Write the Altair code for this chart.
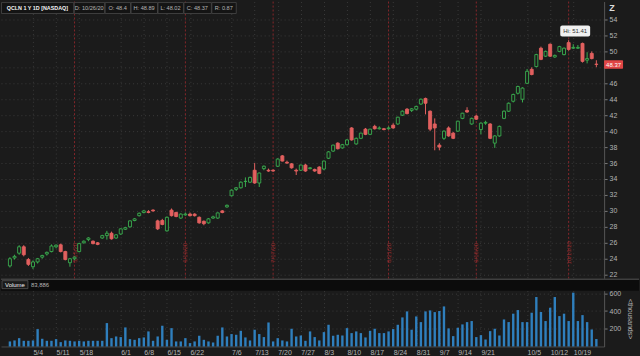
import altair as alt
import pandas as pd

# ---------------- data ----------------
opens = [23.1, 24.1, 24.7, 25.5, 23.9, 23.0, 23.6, 24.2, 24.6, 24.9,
         25.5, 25.75, 24.9, 23.5, 24.0, 24.9, 26.0, 26.4, 26.2, 26.0,
         26.6, 26.9, 27.2, 26.6, 27.1, 27.7, 28.0, 28.8, 29.4, 29.8,
         29.9, 30.1, 28.75, 28.8, 27.5, 30.1, 29.8, 29.1, 29.5, 29.6,
         29.6, 29.2, 28.7, 28.5, 29.1, 29.1, 30.0, 30.5, 31.9, 32.7,
         32.9, 33.7, 33.6, 35.1, 33.5, 35.3, 35.1, 35.1, 35.6, 36.9,
         36.1, 35.9, 35.1, 35.1, 35.75, 35.3, 35.2, 35.5, 35.25, 36.6,
         37.5, 38.5, 37.9, 38.3, 40.4, 38.4, 39.1, 40.25, 39.6, 40.6,
         40.3, 40.3, 40.3, 40.75, 40.9, 42.0, 42.75, 42.6, 42.75, 43.4,
         44.1, 42.5, 40.9, 38.25, 39.1, 40.4, 39.75, 40.0, 41.6, 42.6,
         40.9, 41.9, 40.2, 41.0, 40.9, 38.5, 39.4, 41.6, 42.5, 43.75,
         44.75, 44.0, 46.0, 47.75, 48.1, 50.4, 49.4, 50.9, 49.3, 50.0,
         49.6, 51.1, 50.4, 50.4, 51.0, 48.9, 49.75, 48.4]
highs = [24.2, 24.5, 25.7, 25.7, 24.1, 23.8, 24.1, 24.5, 24.9, 25.8,
         25.8, 25.9, 25.0, 24.1, 24.3, 26.0, 26.3, 26.7, 26.3, 26.1,
         27.0, 27.5, 27.4, 27.1, 27.8, 28.0, 28.8, 29.1, 29.8, 30.1,
         30.1, 30.2, 28.9, 29.0, 29.3, 30.3, 29.9, 29.7, 29.8, 29.8,
         29.7, 29.3, 28.8, 29.1, 29.4, 29.8, 30.1, 30.8, 32.7, 33.0,
         33.7, 34.2, 34.3, 36.0, 34.8, 35.7, 35.3, 35.2, 36.6, 37.0,
         36.3, 36.0, 35.3, 35.8, 35.9, 35.5, 35.3, 35.6, 36.3, 37.5,
         38.3, 38.6, 38.4, 39.0, 40.5, 39.2, 39.8, 40.4, 40.3, 40.8,
         40.6, 40.4, 40.6, 41.0, 41.8, 42.6, 42.9, 42.9, 43.2, 44.1,
         44.2, 42.6, 41.6, 38.5, 40.1, 40.6, 39.9, 41.3, 42.3, 43.0,
         41.7, 42.0, 41.1, 41.3, 41.0, 39.5, 40.7, 42.6, 43.6, 44.7,
         45.7, 45.5, 47.8, 48.0, 49.7, 50.6, 50.1, 51.0, 49.6, 50.7,
         50.5, 51.41, 50.9, 50.8, 51.1, 49.9, 50.0, 48.89]
lows = [22.9, 23.9, 24.5, 24.3, 23.1, 22.7, 23.4, 24.0, 24.4, 24.8,
        25.3, 24.8, 23.8, 23.0, 23.8, 24.8, 25.9, 26.2, 25.8, 25.7,
        26.5, 26.4, 26.4, 26.5, 27.0, 27.6, 27.9, 28.7, 29.3, 29.7,
        29.7, 29.9, 27.6, 28.2, 27.4, 29.3, 29.2, 29.0, 29.4, 29.3,
        29.3, 28.4, 28.2, 28.4, 29.0, 29.0, 29.7, 30.4, 31.8, 32.5,
        32.8, 33.0, 33.5, 33.4, 33.0, 35.1, 34.9, 34.9, 35.5, 36.2,
        35.9, 35.3, 34.5, 35.0, 34.9, 35.2, 34.9, 34.6, 35.1, 36.5,
        37.4, 37.7, 37.8, 38.2, 38.8, 38.3, 39.0, 39.5, 39.5, 40.2,
        40.2, 40.1, 40.2, 40.3, 40.8, 41.9, 42.1, 42.4, 42.6, 43.3,
        42.1, 40.0, 37.6, 37.6, 38.9, 39.3, 39.0, 39.9, 41.5, 42.3,
        40.8, 41.4, 39.6, 40.8, 39.0, 37.9, 39.3, 41.5, 42.4, 43.6,
        44.6, 43.6, 45.9, 47.0, 48.0, 48.9, 49.3, 49.3, 49.2, 49.9,
        49.5, 50.1, 50.3, 50.3, 48.6, 48.5, 49.0, 48.02]
closes = [24.0, 24.3, 25.5, 24.5, 23.3, 23.6, 24.0, 24.4, 24.8, 25.6,
          25.7, 24.9, 23.9, 24.0, 24.2, 25.9, 26.2, 26.6, 25.9, 25.8,
          26.9, 27.2, 26.5, 27.0, 27.75, 27.9, 28.75, 29.0, 29.7, 30.0,
          29.8, 30.0, 27.75, 28.3, 29.2, 29.4, 29.3, 29.6, 29.6, 29.4,
          29.4, 28.5, 28.4, 29.0, 29.25, 29.75, 29.8, 30.7, 32.6, 32.9,
          33.6, 33.7, 34.2, 33.5, 34.75, 35.6, 35.0, 35.0, 36.5, 36.25,
          36.0, 35.4, 35.0, 35.75, 35.0, 35.4, 35.0, 34.7, 36.25, 37.4,
          38.25, 37.8, 38.3, 38.9, 38.9, 39.1, 39.75, 39.6, 40.25, 40.3,
          40.4, 40.2, 40.4, 40.4, 41.75, 42.5, 42.2, 42.8, 43.1, 44.0,
          43.5, 40.25, 40.4, 38.0, 40.0, 39.4, 39.1, 41.25, 42.25, 42.4,
          41.6, 41.5, 41.0, 41.1, 39.1, 39.4, 40.6, 42.5, 43.5, 44.6,
          45.6, 45.4, 47.5, 47.1, 49.6, 49.0, 50.0, 49.4, 49.5, 50.6,
          50.4, 50.25, 50.5, 50.5, 48.75, 49.1, 49.1, 48.37]
volumes = [57, 68, 94, 64, 64, 68, 196, 87, 64, 64,
           83, 49, 68, 64, 57, 64, 57, 64, 64, 64,
           64, 264, 94, 113, 106, 215, 83, 75, 94, 102,
           170, 64, 113, 234, 75, 207, 57, 57, 94, 38,
           57, 121, 75, 57, 45, 121, 215, 113, 140, 132,
           177, 102, 68, 189, 140, 106, 271, 57, 94, 68,
           57, 200, 113, 124, 64, 170, 106, 68, 162, 245,
           121, 132, 124, 207, 151, 170, 151, 102, 177, 200,
           151, 151, 170, 196, 245, 328, 396, 189, 339, 275,
           396, 407, 388, 400, 452, 204, 117, 211, 249, 275,
           287, 106, 128, 79, 173, 200, 124, 305, 275, 370,
           411, 275, 275, 381, 558, 389, 287, 437, 558, 343,
           370, 287, 607, 287, 354, 275, 192, 84]

tick_index = [5, 10, 15, 24, 29, 34, 39, 48, 53, 58, 63, 68, 73, 78, 83,
              88, 93, 97, 102, 112, 117, 122]
tick_labels = ["5/4", "5/11", "5/18", "6/1", "6/8", "6/15", "6/22", "7/6",
               "7/13", "7/20", "7/27", "8/3", "8/10", "8/17", "8/24", "8/31",
               "9/7", "9/14", "9/21", "10/5", "10/12", "10/19"]
expiry_index = [14, 38, 57, 82, 101, 121]
expiry_labels = ["5/15/20", "6/19/20", "7/17/20", "8/21/20", "9/18/20", "10/16/20"]
price_ticks = [22, 24, 26, 28, 30, 32, 34, 36, 38, 40, 42, 44, 46, 48, 50, 52, 54]
volume_ticks = [200, 400, 600]
last_close_text = "48.37"
hidden_price_label = 48   # covered by the last-price tag in the reference

# ---------------- styling ----------------
BG = "#1b1b1b"
UP = "#3aae4f"
DOWN = "#e2605f"
VOL = "#2f7fbd"
GRID = "#3a3a3a"
LABEL = "#b4b4b4"
FONT = "Liberation Sans"

df = pd.DataFrame({"i": list(range(len(opens))), "open": opens, "high": highs,
                   "low": lows, "close": closes, "volume": volumes})
df["dir"] = ["up" if c >= o else "down" for o, c in zip(opens, closes)]
exp_df = pd.DataFrame({"i": expiry_index, "label": expiry_labels})

xscale = alt.Scale(domain=[-0.85, 127.6], nice=False, zero=False)
label_expr = "{}[indexof({}, datum.value)]".format(
    "[" + ",".join("'%s'" % t for t in tick_labels) + "]",
    "[" + ",".join(str(t) for t in tick_index) + "]")

x_top_axis = alt.Axis(values=tick_index, labels=False, ticks=False, domain=False,
                      grid=True, gridColor=GRID, gridDash=[1, 3])
x_bot = alt.X("i:Q", scale=xscale, title=None,
              axis=alt.Axis(values=tick_index, labelExpr=label_expr, labelAlign="left",
                            labelPadding=2, labelFontSize=7, labelColor=LABEL, labelFont=FONT,
                            labelOverlap=False, ticks=False, domain=True, domainColor="#4a4a4a",
                            grid=True, gridColor=GRID, gridDash=[1, 3]))

yscale = alt.Scale(domain=[21.5, 56.25], nice=False, zero=False)
price_axis = alt.Axis(orient="right", values=price_ticks, tickCount=17, labelColor=LABEL,
                      labelFontSize=7, labelFont=FONT, labelPadding=2, tickSize=3,
                      labelExpr="datum.value == %d ? '' : datum.label" % hidden_price_label,
                      tickColor="#777", labelOverlap=False, labelFlush=False,
                      domainColor="#555", grid=True, gridColor=GRID, gridDash=[1, 3])
dir_color = alt.Scale(domain=["up", "down"], range=[UP, DOWN])
dir_fill = alt.Scale(domain=["up", "down"], range=[BG, DOWN])

one = alt.Data(values=[{}])


def box(x0, x1, y0, y1, fill, stroke=None, radius=0, opacity=1.0):
    kw = dict(fill=fill, cornerRadius=radius, opacity=opacity)
    if stroke:
        kw.update(stroke=stroke, strokeWidth=0.8)
    return alt.Chart(one).mark_rect(**kw).encode(
        x=alt.value(x0), x2=alt.value(x1), y=alt.value(y0), y2=alt.value(y1))


def label(text, x, y, color, size=6, align="left", weight="normal"):
    return alt.Chart(one).mark_text(text=text, align=align, baseline="middle", color=color,
                                    fontSize=size, font=FONT, fontWeight=weight).encode(
        x=alt.value(x), y=alt.value(y))


base = alt.Chart(df)

wicks = base.mark_rule(strokeWidth=1).encode(
    x=alt.X("i:Q", scale=xscale, title=None, axis=x_top_axis),
    y=alt.Y("low:Q", scale=yscale, title=None, axis=price_axis),
    y2="high:Q",
    color=alt.Color("dir:N", scale=dir_color, legend=None))

bodies = base.mark_bar(size=3, strokeWidth=0.9).encode(
    x=alt.X("i:Q", scale=xscale, title=None, axis=x_top_axis),
    y=alt.Y("open:Q", scale=yscale, title=None, axis=price_axis),
    y2="close:Q",
    fill=alt.Fill("dir:N", scale=dir_fill, legend=None),
    stroke=alt.Stroke("dir:N", scale=dir_color, legend=None))

exp_rules = alt.Chart(exp_df).mark_rule(color="#86262a", strokeDash=[2, 2], strokeWidth=1).encode(
    x=alt.X("i:Q", scale=xscale, title=None, axis=x_top_axis))
exp_text = alt.Chart(exp_df).mark_text(angle=270, color="#992e30", fontSize=6, font=FONT,
                                       baseline="middle", align="center").encode(
    x=alt.X("i:Q", scale=xscale, title=None, axis=x_top_axis), y=alt.value(252), text="label:N")

header_items = [("QCLN 1 Y 1D [NASDAQ]", 0, 73, "#f2f2f2", "bold"),
                ("D: 10/26/20", 73, 104, LABEL, "normal"),
                ("O: 48.4", 104, 130, LABEL, "normal"), ("H: 48.89", 130, 157, LABEL, "normal"),
                ("L: 48.02", 157, 183, LABEL, "normal"), ("C: 48.37", 183, 211, LABEL, "normal"),
                ("R: 0.87", 211, 236, LABEL, "normal")]
header_layers = []
for text, a, b, col, wt in header_items:
    header_layers.append(box(a + 0.5, b, 1, 12, "#141414", stroke="#474747"))
for text, a, b, col, wt in header_items:
    header_layers.append(label(text, (a + b) / 2, 6.5, col, size=5.4 if wt == "bold" else 5.6,
                               align="center", weight=wt))

hi_bubble = [box(561, 591, 24, 35, "#f0f0f0", radius=2),
             label("Hi: 51.41", 576, 29.5, "#333333", size=6, align="center")]
price_tag = [box(605, 624, 59, 67.5, "#e04545", radius=1),
             label(last_close_text, 614.5, 63.2, "#ffffff", size=6, align="center")]
zicon = [label("Z", 613, 6, "#dddddd", size=9, align="center", weight="bold")]

price = alt.layer(exp_rules, exp_text, wicks, bodies, *header_layers, *hi_bubble, *price_tag,
                  *zicon).properties(width=605, height=278)

vol_bars = base.mark_bar(size=2.4, color=VOL).encode(
    x=x_bot,
    y=alt.Y("volume:Q", scale=alt.Scale(domain=[0, 630], nice=False), title="<thousands>",
            axis=alt.Axis(orient="right", values=volume_ticks, labelColor=LABEL, labelFontSize=7,
                          labelFont=FONT, labelPadding=2, tickSize=3, tickColor="#777",
                          labelOverlap=False, labelFlush=False,
                          domainColor="#555", grid=True, gridColor=GRID, gridDash=[1, 3],
                          titleColor=LABEL, titleFontSize=7, titleFont=FONT,
                          titleFontWeight="normal", titlePadding=6)))

vol_band = [box(0, 640, -12, 0, "#0c0c0c"),
            alt.Chart(one).mark_rule(color="#5a5a5a", strokeWidth=1).encode(
                x=alt.value(0), x2=alt.value(640), y=alt.value(-11.5)),
            box(1, 27, -10, -2, "#1a1a1a", stroke="#555555"),
            label("Volume", 14, -6, "#f0f0f0", size=6, align="center"),
            label("83,886", 30, -6, LABEL, size=6),
            box(0, 640, 56, 66, BG, opacity=0)]

volume = alt.layer(*vol_band, vol_bars).properties(width=605, height=56)

chart = alt.vconcat(price, volume, spacing=12, bounds="flush").properties(
    background=BG, padding=0, autosize="pad"
).configure_view(stroke=None).configure_axis(labelFont=FONT, labelOverlap=False)

chart.save("out.html", embed_options={"renderer": "svg", "actions": False})
